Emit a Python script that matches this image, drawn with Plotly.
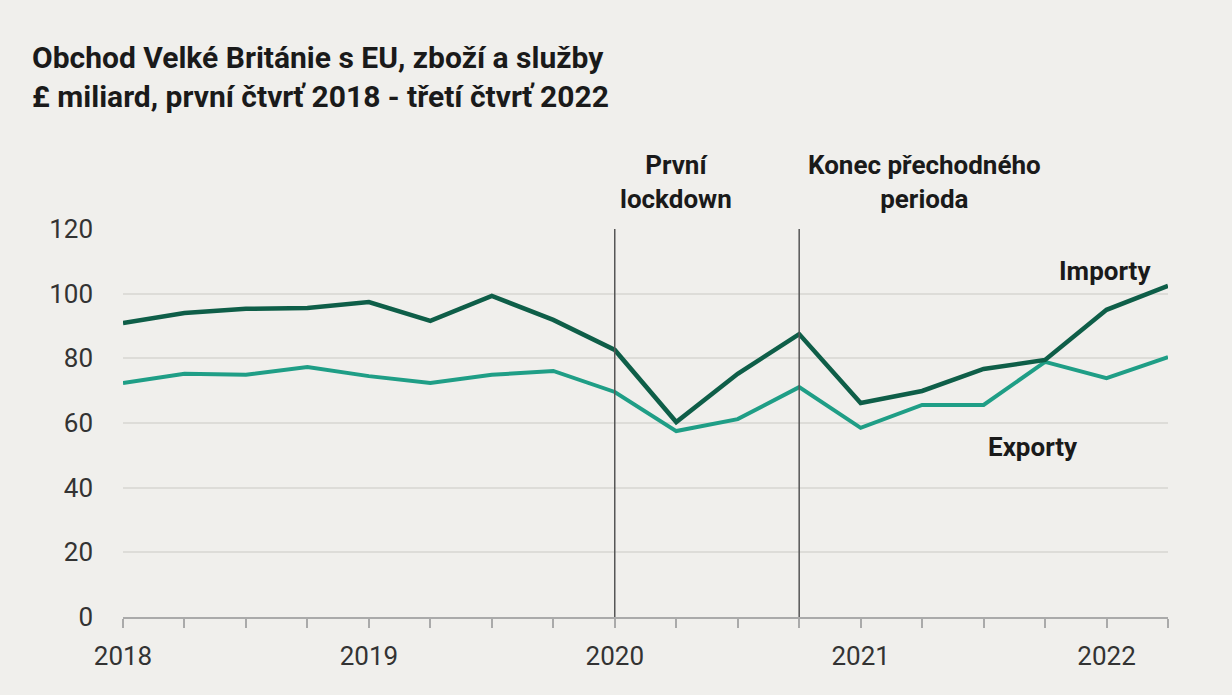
import plotly.graph_objects as go

# quarters 2018 Q1 .. 2022 Q2
years = [2018] * 4 + [2019] * 4 + [2020] * 4 + [2021] * 4 + [2022] * 2
quarters = [1, 2, 3, 4] * 4 + [1, 2]
imports = [90.9, 94.0, 95.3, 95.6, 97.4, 91.6, 99.3, 91.9, 82.6,
           60.3, 75.2, 87.5, 66.2, 69.9, 76.7, 79.5, 95.0, 102.4]
exports = [72.4, 75.2, 74.9, 77.3, 74.5, 72.4, 74.9, 76.1, 69.6,
           57.5, 61.2, 71.1, 58.5, 65.6, 65.6, 78.9, 73.9, 80.4]
events = [2020.0, 2020.75]
event_labels = ["První<br>lockdown", "Konec přechodného<br>perioda"]
event_label_x = [2020.25, 2021.26]

x = [y + (q - 1) / 4 for y, q in zip(years, quarters)]

bg = "#f0efec"
font_fam = "Roboto, Arial, sans-serif"

fig = go.Figure()

fig.add_trace(go.Scatter(x=x, y=exports, mode="lines", name="Exporty",
                         line=dict(color="#1f9e86", width=4)))
fig.add_trace(go.Scatter(x=x, y=imports, mode="lines", name="Importy",
                         line=dict(color="#0e5e48", width=4.5)))

for e in events:
    fig.add_shape(type="line", x0=e, x1=e, y0=0, y1=120, xref="x", yref="y",
                  line=dict(color="#555555", width=1.5))

for lx, txt in zip(event_label_x, event_labels):
    fig.add_annotation(x=lx, y=1.0335, xref="x", yref="paper", text="<b>" + txt + "</b>",
                       showarrow=False, yanchor="bottom",
                       font=dict(size=26, color="#1a1a1a"))

fig.add_annotation(x=2022.19, y=107, text="<b>Importy</b>", showarrow=False, xanchor="right",
                   yanchor="middle", font=dict(size=26, color="#1a1a1a"))
fig.add_annotation(x=2021.70, y=52.5, text="<b>Exporty</b>", showarrow=False,
                   yanchor="middle", font=dict(size=26, color="#1a1a1a"))

fig.update_layout(
    width=1232, height=695,
    paper_bgcolor=bg, plot_bgcolor=bg,
    margin=dict(l=123, r=64, t=229, b=78),
    showlegend=False,
    font=dict(family=font_fam, color="#333333"),
    title=dict(text="<b>Obchod Velké Británie s EU, zboží a služby<br>£ miliard, první čtvrť 2018 - třetí čtvrť 2022</b>",
               x=32 / 1232, xref="container", xanchor="left",
               y=0.902, yref="container", yanchor="top",
               font=dict(size=30, color="#1a1a1a", family=font_fam)),
)

fig.update_xaxes(range=[2018, 2022.25], tickmode="array", tickvals=x,
                 ticktext=[str(y) if q == 1 else "" for y, q in zip(years, quarters)],
                 ticks="outside", ticklen=9, tickcolor="#aaaaaa", tickwidth=1.5,
                 showline=True, linecolor="#aaaaaa", linewidth=2,
                 showgrid=False, zeroline=False, automargin=False,
                 ticklabelstandoff=6,
                 tickfont=dict(size=26, color="#333333"))
fig.update_yaxes(range=[0, 120], tickvals=[0, 20, 40, 60, 80, 100, 120],
                 showgrid=True, gridcolor="#dddcd8", gridwidth=1.5,
                 zeroline=False, ticks="", ticklabelstandoff=29, automargin=False,
                 tickfont=dict(size=26, color="#333333"))

fig.write_html("out.html", config={"displayModeBar": False},
               post_script="document.body.style.margin='0';document.body.style.background='%s';" % bg)
